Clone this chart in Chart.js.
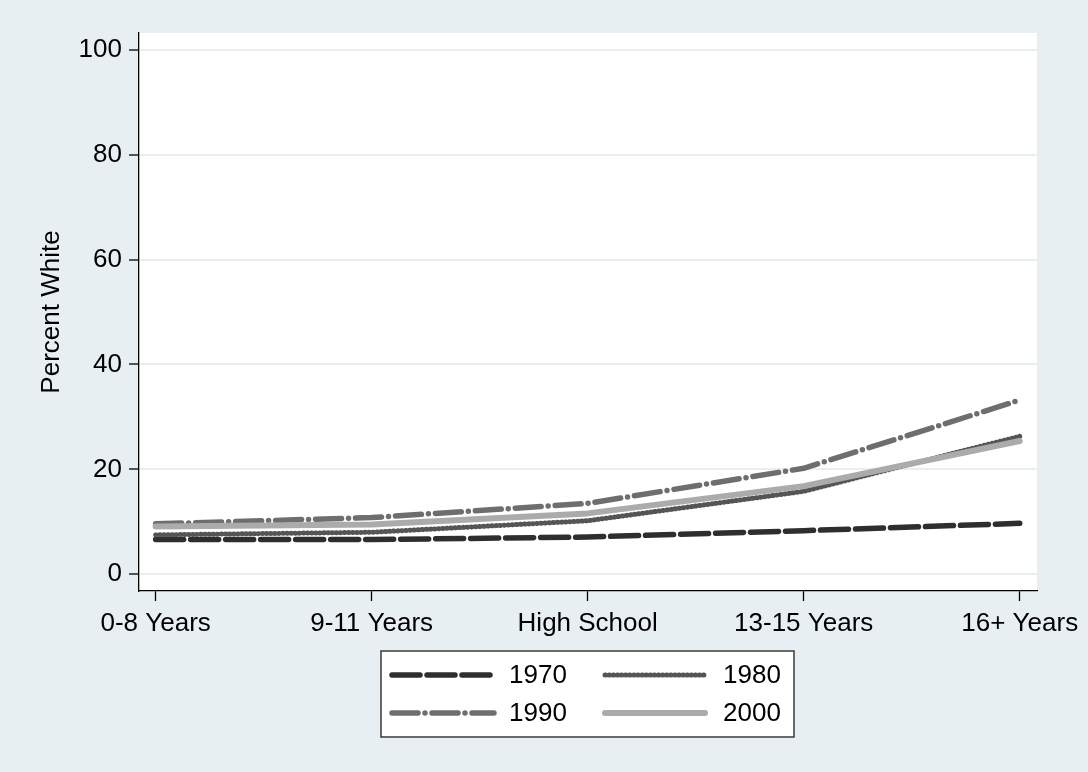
<!DOCTYPE html>
<html>
<head>
<meta charset="utf-8">
<style>
  html, body { margin: 0; padding: 0; background: #e8eff2; }
  #wrap { width: 1088px; height: 772px; }
</style>
<script src="https://cdn.jsdelivr.net/npm/chart.js@4/dist/chart.umd.min.js"></script>
</head>
<body>
<div id="wrap"><canvas id="c" width="1088" height="772"></canvas></div>
<script>
// Education categories along the x axis
const categories = ['0-8 Years', '9-11 Years', 'High School', '13-15 Years', '16+ Years'];
// Percent white, by census year
const v1970 = [6.6, 6.6, 7.1, 8.3, 9.7];
const v1980 = [7.5, 8.0, 10.2, 15.8, 26.3];
const v1990 = [9.6, 10.8, 13.5, 20.2, 33.2];
const v2000 = [9.1, 9.5, 11.6, 16.8, 25.4];
const yTicks = [0, 20, 40, 60, 80, 100];
const years = ['1970', '1980', '1990', '2000'];

const FONT = '"Liberation Sans", Arial, Helvetica, sans-serif';
const FS = 26;

function pts(arr) { return arr.map((y, i) => ({ x: i, y: y })); }

const styles = [
  { color: '#2e2e2e', width: 5.5, dash: [28, 7] },
  { color: '#555555', width: 5,   dash: [0.5, 3.6] },
  { color: '#6e6e6e', width: 5.5, dash: [26, 7, 0, 7] },
  { color: '#ababab', width: 6,   dash: [] }
];
const seriesVals = [v1970, v1980, v1990, v2000];

const datasets = seriesVals.map((vals, k) => ({
  label: years[k],
  data: pts(vals),
  borderColor: styles[k].color,
  borderWidth: styles[k].width,
  borderDash: styles[k].dash,
  borderCapStyle: 'round',
  borderJoinStyle: 'round',
  pointRadius: 0,
  pointHoverRadius: 0,
  fill: false,
  tension: 0,
  order: 4 - k
}));

// Page background and white plot region
const backdrop = {
  id: 'backdrop',
  beforeDraw(chart) {
    const ctx = chart.ctx, a = chart.chartArea;
    ctx.save();
    ctx.fillStyle = '#e8eff2';
    ctx.fillRect(0, 0, chart.width, chart.height);
    ctx.fillStyle = '#ffffff';
    ctx.fillRect(a.left, a.top, a.right - a.left, a.bottom - a.top);
    ctx.restore();
  }
};

// Boxed two-column key below the plot
const keyBox = {
  id: 'keyBox',
  afterDraw(chart) {
    const ctx = chart.ctx;
    const bx = 381, by = 651, bw = 413, bh = 86;
    ctx.save();
    ctx.fillStyle = '#ffffff';
    ctx.fillRect(bx, by, bw, bh);
    ctx.strokeStyle = '#3a3a3a';
    ctx.lineWidth = 1.5;
    ctx.strokeRect(bx, by, bw, bh);
    const cols = [{ x0: 392, x1: 494, tx: 509 }, { x0: 605, x1: 705, tx: 723 }];
    const rows = [675, 713];
    chart.data.datasets.forEach((ds, i) => {
      const c = cols[i % 2], y = rows[Math.floor(i / 2)];
      ctx.beginPath();
      ctx.setLineDash(ds.borderDash || []);
      ctx.lineCap = 'round';
      ctx.lineWidth = ds.borderWidth;
      ctx.strokeStyle = ds.borderColor;
      ctx.moveTo(c.x0, y);
      ctx.lineTo(c.x1, y);
      ctx.stroke();
      ctx.setLineDash([]);
      ctx.fillStyle = '#000000';
      ctx.font = FS + 'px ' + FONT;
      ctx.textAlign = 'left';
      ctx.textBaseline = 'middle';
      ctx.fillText(ds.label, c.tx, y + 1);
    });
    ctx.restore();
  }
};

new Chart(document.getElementById('c'), {
  type: 'line',
  data: { datasets: datasets },
  plugins: [backdrop, keyBox],
  options: {
    responsive: false,
    devicePixelRatio: 1,
    animation: false,
    events: [],
    layout: { padding: { top: 33, right: 51, bottom: 0, left: 0 } },
    plugins: { legend: { display: false }, tooltip: { enabled: false } },
    scales: {
      x: {
        type: 'linear',
        min: -0.077,
        max: 4.08,
        afterBuildTicks(scale) { scale.ticks = categories.map((c, i) => ({ value: i })); },
        afterFit(scale) { scale.height = 181; },
        ticks: {
          autoSkip: false,
          maxRotation: 0,
          color: '#000000',
          padding: 7,
          font: { family: FONT, size: FS },
          callback: (v) => categories[v]
        },
        grid: { drawOnChartArea: false, drawTicks: true, tickLength: 10, tickColor: '#000000', tickWidth: 1.3 },
        border: { display: true, color: '#000000', width: 1.3 }
      },
      y: {
        type: 'linear',
        min: -3.2,
        max: 103.2,
        afterBuildTicks(scale) { scale.ticks = yTicks.map(v => ({ value: v })); },
        afterFit(scale) { scale.width = 139; },
        ticks: {
          color: '#000000',
          padding: 7,
          font: { family: FONT, size: FS }
        },
        grid: { color: '#e8eff2', lineWidth: 2, drawTicks: true, tickLength: 10, tickColor: '#000000', tickWidth: 1.3 },
        border: { display: true, color: '#000000', width: 1.3 },
        title: {
          display: true,
          text: 'Percent White',
          color: '#000000',
          font: { family: FONT, size: FS, lineHeight: 1.2 },
          padding: { top: 36, bottom: 0 }
        }
      }
    }
  }
});
</script>
</body>
</html>
